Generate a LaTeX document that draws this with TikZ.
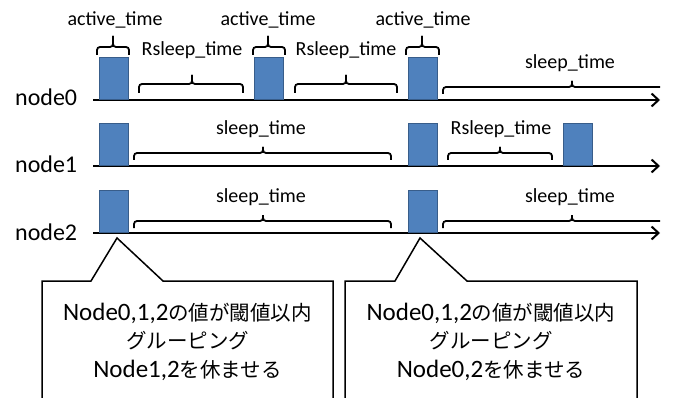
\documentclass[tikz,border=0pt]{standalone}
\usepackage{fontspec}
\setmainfont{Carlito}
\newfontfamily\jp[Scale=0.82]{Noto Sans CJK JP}
\usetikzlibrary{arrows.meta}
\definecolor{actfill}{HTML}{4F81BD}
\definecolor{actline}{HTML}{385D8A}
\tikzset{
  axisline/.style={line width=2pt, -{Straight Barb[length=7pt,width=13pt]}},
  actbox/.style={fill=actfill, draw=actline, line width=1pt, minimum width=29pt,
    minimum height=42pt, inner sep=0pt, anchor=south west},
  brc/.style={line width=1.8pt, rounded corners=3pt},
  lbl/.style={font=\fontsize{20}{24}\selectfont, inner sep=0pt, anchor=base},
  nlbl/.style={font=\fontsize{24}{28}\selectfont, inner sep=0pt, anchor=base west},
  note/.style={fill=white, draw=black, line width=1.5pt, line join=miter},
  notetext/.style={font=\fontsize{25}{30}\selectfont, inner sep=0pt, anchor=base},
}
% bracket: x-left, x-right, y of the ends, y of the bar, y of the tip, x of the tip
\newcommand\tbrace[6]{%
  \draw[brc] (#1,#3) -- (#1,#4) -- (#6,#4) -- (#6,#5);
  \draw[brc] (#6,#5) -- (#6,#4) -- (#2,#4) -- (#2,#3);}
\begin{document}
\begin{tikzpicture}[x=1pt,y=-1pt]
\useasboundingbox (0,0) rectangle (674,398);
\clip (0,0) rectangle (674,398);
\fill[white] (0,0) rectangle (674,398);

% time axes
\coordinate (a0s) at (93,100);  \coordinate (a0e) at (660,100);
\coordinate (a1s) at (93,166);  \coordinate (a1e) at (660,166);
\coordinate (a2s) at (93,233);  \coordinate (a2e) at (660,233);
\draw[axisline] (a0s) -- (a0e);
\draw[axisline] (a1s) -- (a1e);
\draw[axisline] (a2s) -- (a2e);

% row labels
\node[nlbl] (l0) at (15,106) {node0};
\node[nlbl] (l1) at (15,173) {node1};
\node[nlbl] (l2) at (15,240) {node2};

% active periods
\node[actbox] (n0a) at (98.5,100) {};
\node[actbox] (n0b) at (253.5,100) {};
\node[actbox] (n0c) at (407.5,100) {};
\node[actbox] (n1a) at (98.5,166) {};
\node[actbox] (n1b) at (407.5,166) {};
\node[actbox] (n1c) at (562.5,166) {};
\node[actbox] (n2a) at (98.5,233) {};
\node[actbox] (n2b) at (407.5,233) {};

% node0 brackets
\tbrace{97}{129}{55}{47}{36}{113}
\tbrace{253}{285}{55}{47}{36}{268}
\tbrace{406}{439}{55}{47}{36}{422}
\tbrace{139}{243}{93}{84}{75}{192}
\tbrace{295}{397}{93}{84}{75}{346}
\draw[brc] (443,94) -- (443,87) -- (572,87) -- (572,81);
\draw[brc] (572,81) -- (572,87) -- (660,87);
\node[lbl] (t0a) at (115,26) {active\_time};
\node[lbl] (t0b) at (268,26) {active\_time};
\node[lbl] (t0c) at (423,26) {active\_time};
\node[lbl] (t0d) at (192,56) {Rsleep\_time};
\node[lbl] (t0e) at (346,56) {Rsleep\_time};
\node[lbl] (t0f) at (570,69) {sleep\_time};

% node1 brackets
\tbrace{134}{391}{160}{153}{147}{263}
\tbrace{448}{552}{160}{153}{147}{500}
\node[lbl] (t1a) at (261,135) {sleep\_time};
\node[lbl] (t1b) at (501,135) {Rsleep\_time};

% node2 brackets
\tbrace{134}{391}{228}{221}{215}{263}
\draw[brc] (443,228) -- (443,221) -- (572,221) -- (572,215);
\draw[brc] (572,215) -- (572,221) -- (660,221);
\node[lbl] (t2a) at (261,202) {sleep\_time};
\node[lbl] (t2b) at (570,202) {sleep\_time};

% callouts
\coordinate (p1) at (117,238);
\coordinate (p2) at (420,238);
\draw[note] (42,410) -- (42,281) -- (91,281) -- (p1) -- (163,281) -- (333,281) -- (333,410);
\draw[note] (345,410) -- (345,281) -- (395,281) -- (p2) -- (467,281) -- (637,281) -- (637,410);

\node[notetext] (c1a) at (187.5,320) {Node0,1,2{\jp の値が閾値以内}};
\node[notetext] (c1b) at (187.5,348) {{\jp グルーピング}};
\node[notetext] (c1c) at (187.5,377) {Node1,2{\jp を休ませる}};
\node[notetext] (c2a) at (491,320) {Node0,1,2{\jp の値が閾値以内}};
\node[notetext] (c2b) at (491,348) {{\jp グルーピング}};
\node[notetext] (c2c) at (491,377) {Node0,2{\jp を休ませる}};
\end{tikzpicture}
\end{document}
